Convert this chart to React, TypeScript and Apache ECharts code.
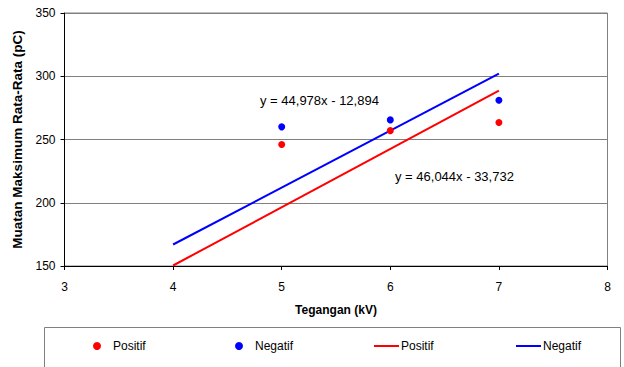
import React, { useEffect, useRef } from "react";
import * as echarts from "echarts";

const voltages = [5, 6, 7];
const positifValues = [246, 257, 263.5];
const negatifValues = [260, 265.5, 281];
const trendX = [4, 7];
const positifTrend = [150.4, 288.6];
const negatifTrend = [167.0, 302.0];
const positifEquation = "y = 46,044x - 33,732";
const negatifEquation = "y = 44,978x - 12,894";

const FONT = "Liberation Sans, Arial, sans-serif";

export default function App() {
  const ref = useRef<HTMLDivElement>(null);
  useEffect(() => {
    if (!ref.current) return;
    const chart = echarts.init(ref.current, null, { renderer: "svg" });
    const toPairs = (xs: number[], ys: number[]) => xs.map((x, i) => [x, ys[i]]);
    const legendBase = {
      top: 340,
      padding: 0,
      itemGap: 0,
      selectedMode: false,
    };
    const dotText = { fontFamily: FONT, fontSize: 12, color: "#000", padding: [0, 0, 0, 7] };
    const lineText = { fontFamily: FONT, fontSize: 12, color: "#000", padding: [0, 0, 0, -3] };
    chart.setOption({
      animation: false,
      backgroundColor: "#fff",
      textStyle: { fontFamily: FONT },
      grid: {
        left: 64.5,
        right: 16.5,
        top: 13,
        bottom: 101,
        show: true,
        borderColor: "#808080",
        borderWidth: 1,
      },
      xAxis: {
        type: "value",
        min: 3,
        max: 8,
        interval: 1,
        name: "Tegangan (kV)",
        nameLocation: "middle",
        nameGap: 38,
        nameTextStyle: { fontFamily: FONT, fontSize: 12, fontWeight: "bold", color: "#000" },
        axisLine: { show: true, lineStyle: { color: "#000", width: 1 } },
        axisTick: { show: true, length: 4, lineStyle: { color: "#000" } },
        axisLabel: { fontFamily: FONT, fontSize: 12, color: "#000", margin: 15 },
        splitLine: { show: false },
      },
      yAxis: {
        type: "value",
        min: 150,
        max: 350,
        interval: 50,
        name: "Muatan Maksimum Rata-Rata (pC)",
        nameLocation: "middle",
        nameGap: 36,
        nameTextStyle: { fontFamily: FONT, fontSize: 13.5, fontWeight: "bold", color: "#000" },
        axisLine: { show: true, lineStyle: { color: "#000", width: 1 } },
        axisTick: { show: true, length: 4, lineStyle: { color: "#000" } },
        axisLabel: { fontFamily: FONT, fontSize: 12, color: "#000", margin: 9 },
        splitLine: { show: true, lineStyle: { color: "#808080", width: 1 } },
      },
      legend: [
        { ...legendBase, left: 93, data: [{ name: "Positif", icon: "circle" }], itemWidth: 8, itemHeight: 8, textStyle: dotText },
        { ...legendBase, left: 235, data: [{ name: "Negatif", icon: "circle" }], itemWidth: 8, itemHeight: 8, textStyle: dotText },
        { ...legendBase, left: 374, data: [{ name: "Positif ", icon: "rect" }], itemWidth: 25, itemHeight: 2, textStyle: lineText },
        { ...legendBase, left: 516, data: [{ name: "Negatif ", icon: "rect" }], itemWidth: 25, itemHeight: 2, textStyle: lineText },
      ],
      series: [
        {
          name: "Positif ",
          type: "line",
          data: toPairs(trendX, positifTrend),
          showSymbol: false,
          symbol: "none",
          lineStyle: { color: "#ff0000", width: 2 },
          itemStyle: { color: "#ff0000" },
          z: 2,
        },
        {
          name: "Negatif ",
          type: "line",
          data: toPairs(trendX, negatifTrend),
          showSymbol: false,
          symbol: "none",
          lineStyle: { color: "#0000ff", width: 2 },
          itemStyle: { color: "#0000ff" },
          z: 2,
        },
        {
          name: "Positif",
          type: "scatter",
          data: toPairs(voltages, positifValues),
          symbol: "circle",
          symbolSize: 7,
          itemStyle: { color: "#ff0000", opacity: 1 },
          z: 3,
        },
        {
          name: "Negatif",
          type: "scatter",
          data: toPairs(voltages, negatifValues),
          symbol: "circle",
          symbolSize: 7,
          itemStyle: { color: "#0000ff", opacity: 1 },
          z: 3,
        },
      ],
      graphic: [
        {
          type: "rect",
          shape: { x: 44.5, y: 327.5, width: 576, height: 50 },
          style: { fill: "none", stroke: "#808080", lineWidth: 1 },
          z: -1,
        },
        {
          type: "text",
          x: 260,
          y: 100,
          style: {
            text: negatifEquation,
            fontFamily: FONT,
            fontSize: 13,
            fill: "#000",
            verticalAlign: "middle",
          },
        },
        {
          type: "text",
          x: 395,
          y: 176,
          style: {
            text: positifEquation,
            fontFamily: FONT,
            fontSize: 13,
            fill: "#000",
            verticalAlign: "middle",
          },
        },
      ],
    });
    return () => chart.dispose();
  }, []);
  return <div ref={ref} style={{ width: 624, height: 367, position: "absolute", left: 0, top: 0 }} />;
}
